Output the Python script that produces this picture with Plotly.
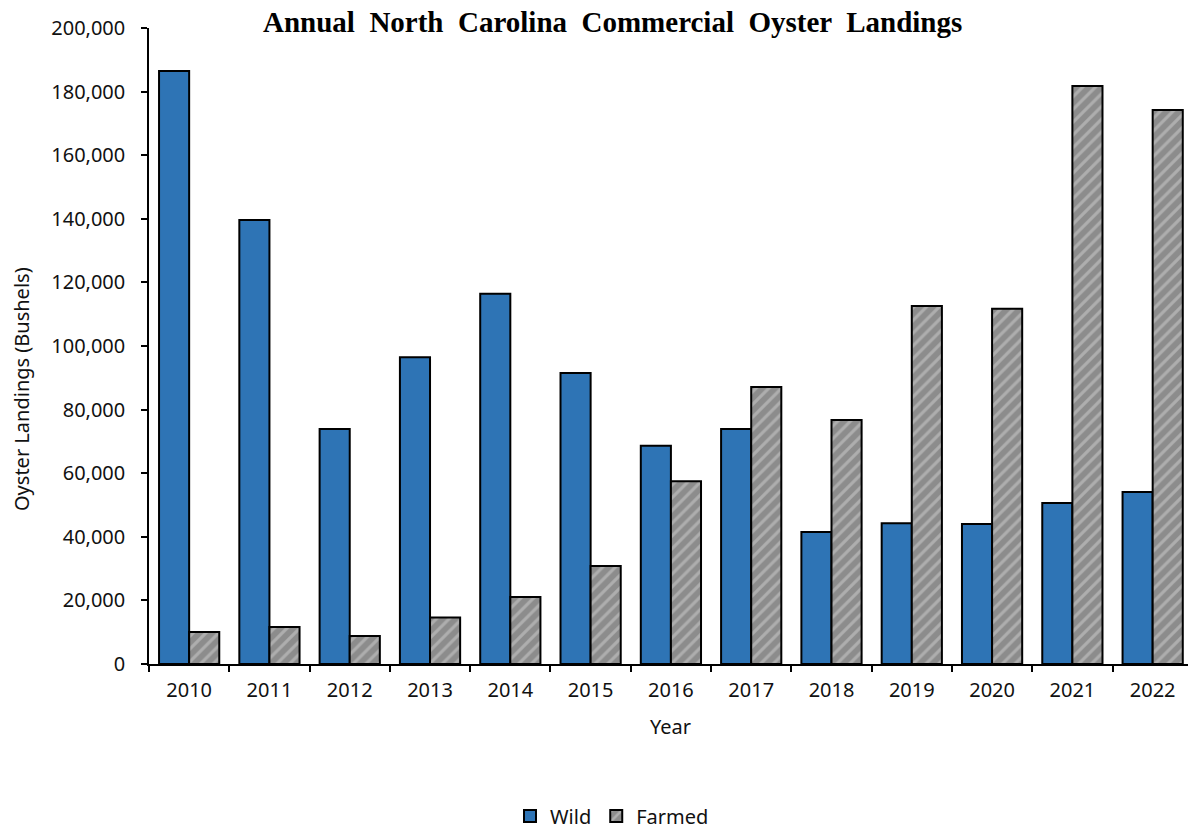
import plotly.graph_objects as go

years = ["2010", "2011", "2012", "2013", "2014", "2015", "2016",
         "2017", "2018", "2019", "2020", "2021", "2022"]
wild = [186500, 139600, 73900, 96500, 116400, 91500, 68600,
        73900, 41500, 44300, 44000, 50600, 54100]
farmed = [10100, 11600, 8800, 14600, 21100, 30800, 57500,
          87100, 76700, 112600, 111700, 181800, 174200]
y_ticks = [0, 20000, 40000, 60000, 80000, 100000, 120000, 140000,
           160000, 180000, 200000]

W, H = 1188, 833
L, R, T, B = 149, 0, 28, 169
pw, ph = W - L - R, H - T - B


def px(x):
    return (x - L) / pw


def py(y):
    return 1 - (y - T) / ph


FONT = "Noto Sans"
TXT = "#111111"
fig = go.Figure()
fig.add_trace(go.Bar(
    x=years, y=wild, name="Wild",
    marker=dict(color="#2E74B5", line=dict(color="black", width=2)),
))
fig.add_trace(go.Bar(
    x=years, y=farmed, name="Farmed",
    marker=dict(color="#8c8c8c", line=dict(color="black", width=2),
                pattern=dict(shape="/", fgcolor="#cfcfcf", bgcolor="#8c8c8c",
                             size=9, solidity=0.35)),
))

title_text = "Annual \u00a0North \u00a0Carolina \u00a0Commercial \u00a0Oyster \u00a0Landings"

fig.update_layout(
    width=W, height=H, autosize=False,
    margin=dict(l=L, r=R, t=T, b=B, pad=0, autoexpand=False),
    paper_bgcolor="white", plot_bgcolor="white",
    barmode="group", bargap=0.25, bargroupgap=0,
    font=dict(family=FONT, size=19, color=TXT),
    showlegend=True,
    legend=dict(orientation="h", x=px(612), y=py(816), xanchor="center",
                yanchor="middle", font=dict(family=FONT, size=20, color=TXT),
                itemwidth=30, traceorder="normal", borderwidth=0),
    xaxis=dict(type="category", range=[-0.5, 12.44], tickson="boundaries",
               ticks="outside", ticklen=6, tickwidth=1.5, tickcolor="black",
               showline=True, linecolor="black", linewidth=1.5,
               showgrid=False, zeroline=False, ticklabelstandoff=7,
               automargin=False,
               tickfont=dict(family=FONT, size=20, color=TXT)),
    yaxis=dict(range=[0, 200000], tickvals=y_ticks, tickformat=",",
               ticks="outside", ticklen=6, tickwidth=1.5, tickcolor="black",
               showline=True, linecolor="black", linewidth=1.5,
               showgrid=False, zeroline=False, ticklabelstandoff=12,
               automargin=False,
               tickfont=dict(family=FONT, size=20, color=TXT)),
    annotations=[
        dict(text="<b>" + title_text + "</b>",
             xref="paper", yref="paper", x=px(612), y=py(22),
             xanchor="center", yanchor="middle", showarrow=False,
             font=dict(family="Liberation Serif", size=29, color="black")),
        dict(text="Year", xref="paper", yref="paper", x=px(670), y=py(726),
             xanchor="center", yanchor="middle", showarrow=False,
             font=dict(family=FONT, size=20, color=TXT)),
        dict(text="Oyster Landings (Bushels)", xref="paper", yref="paper",
             x=px(21), y=py(389), xanchor="center", yanchor="middle",
             textangle=-90, showarrow=False,
             font=dict(family=FONT, size=20, color=TXT)),
    ],
)

fig.write_html("out.html")
